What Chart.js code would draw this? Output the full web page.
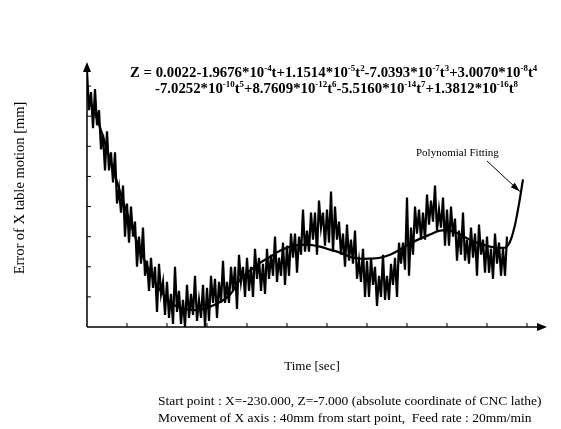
<!DOCTYPE html>
<html>
<head>
<meta charset="utf-8">
<script src="https://cdn.jsdelivr.net/npm/chart.js@4.4.1/dist/chart.umd.min.js"></script>
<style>
html, body { margin: 0; padding: 0; background: #fff; }
#wrap { width: 561px; height: 429px; position: relative; }
</style>
</head>
<body>
<div id="wrap"><canvas id="chart"></canvas></div>
<script>
// measured error of X table motion, one sample every 0.5 time units
const sampleStep = 0.5;
const errorValues = [
  85, 72, 78, 66, 79, 67, 72, 59, 64, 52, 65, 52, 58, 48, 58, 41, 46, 38, 47, 30,
  41, 28, 40, 30, 35, 20, 30, 21, 33, 17, 22, 12, 23, 13, 20, 5, 21, 11, 15, 4,
  15, 3, 11, 1, 20, 5, 12, 1, 9, 0, 14, 3, 11, 4, 17, 2, 9, 3, 14, 0,
  13, 2, 17, 8, 16, 3, 15, 8, 22, 8, 15, 8, 20, 12, 20, 6, 24, 15, 20, 10,
  23, 12, 20, 10, 26, 16, 23, 12, 21, 11, 26, 16, 24, 17, 30, 15, 23, 17, 28, 14,
  27, 17, 31, 23, 31, 18, 30, 24, 39, 25, 32, 25, 38, 29, 38, 24, 42, 33, 38, 27,
  39, 28, 45, 25, 40, 29, 35, 24, 31, 20, 34, 22, 29, 21, 32, 16, 22, 15, 26, 10,
  22, 10, 23, 14, 20, 7, 17, 10, 24, 9, 17, 9, 21, 14, 23, 10, 28, 21, 28, 19,
  43, 17, 33, 24, 40, 31, 39, 29, 38, 29, 44, 34, 42, 35, 47, 32, 39, 33, 43, 27,
  39, 27, 40, 30, 36, 22, 32, 24, 38, 22, 29, 21, 33, 23, 31, 17, 34, 24, 29, 18,
  30, 18, 26, 16, 31, 21, 28, 17, 26, 17, 30
];

// polynomial fitting curve
const fitTimes = [0, 3.25, 5.75, 8.25, 10.75, 13.25, 15.75, 18.25, 20.75, 23.25, 25.75, 28.25,
  30.75, 33.25, 35.75, 38.25, 40.75, 43.25, 45.75, 48.25, 50.75, 53.25, 55.75, 58.25,
  60.75, 63.25, 65.75, 68.25, 70.75, 73.25, 75.75, 78.25, 80.75, 83.25, 85.75, 88.25,
  90.75, 93.25, 95.75, 98.25, 100.75, 103.25, 105, 106.5, 107.75, 109];
const fitValues = [78, 66.3, 55.7, 45, 35, 25.7, 18.3, 12.3, 8.3, 6.3, 5.7, 5.7,
  6.7, 8.3, 10.7, 15.7, 18.7, 21.3, 23.3, 25.3, 26.7, 27.3, 27.3, 26.7,
  25.7, 24.7, 23.3, 22.7, 22.7, 23, 24, 25.7, 27.7, 29.3, 30.7, 32,
  32, 30.7, 29, 27.7, 26.7, 26.3, 26.7, 31.3, 39, 49];

const xTicks = [10, 20, 30, 40, 50, 60, 70, 80, 90, 100, 110];
const yTicks = [10, 20, 30, 40, 50, 60, 70, 80];

const equationLine1 = [['Z = 0.0022-1.9676*10', 0], ['-4', 1], ['t+1.1514*10', 0], ['-5', 1], ['t', 0], ['2', 1],
  ['-7.0393*10', 0], ['-7', 1], ['t', 0], ['3', 1], ['+3.0070*10', 0], ['-8', 1], ['t', 0], ['4', 1]];
const equationLine2 = [['-7.0252*10', 0], ['-10', 1], ['t', 0], ['5', 1], ['+8.7609*10', 0], ['-12', 1], ['t', 0], ['6', 1],
  ['-5.5160*10', 0], ['-14', 1], ['t', 0], ['7', 1], ['+1.3812*10', 0], ['-16', 1], ['t', 0], ['8', 1]];

const errorPoints = errorValues.map((v, i) => ({ x: i * sampleStep, y: v }));
const fitPoints = fitTimes.map((t, i) => ({ x: t, y: fitValues[i] }));

const serif = '"Liberation Serif", "Times New Roman", serif';

function drawRich(ctx, parts, x, y, size, weight) {
  parts.forEach(p => {
    if (p[1]) {
      ctx.font = weight + ' ' + (size * 0.6) + 'px ' + serif;
      ctx.fillText(p[0], x, y - size * 0.42);
    } else {
      ctx.font = weight + ' ' + size + 'px ' + serif;
      ctx.fillText(p[0], x, y);
    }
    x += ctx.measureText(p[0]).width;
  });
}

// axes with arrows, inward ticks and all the texts of the figure
const figurePlugin = {
  id: 'figure',
  afterDraw(chart) {
    const ctx = chart.ctx;
    const xs = chart.scales.x, ys = chart.scales.y;
    const x0 = xs.getPixelForValue(0), y0 = ys.getPixelForValue(0);
    const xEnd = xs.getPixelForValue(xs.max), yTop = ys.getPixelForValue(ys.max);
    ctx.save();
    ctx.strokeStyle = '#000';
    ctx.fillStyle = '#000';
    ctx.lineWidth = 1.5;
    ctx.beginPath();
    ctx.moveTo(x0, y0); ctx.lineTo(xEnd - 4, y0);
    ctx.moveTo(x0, y0); ctx.lineTo(x0, yTop + 4);
    ctx.stroke();
    ctx.beginPath();
    ctx.moveTo(xEnd, y0); ctx.lineTo(xEnd - 10, y0 - 4); ctx.lineTo(xEnd - 10, y0 + 4); ctx.closePath();
    ctx.moveTo(x0, yTop); ctx.lineTo(x0 - 4, yTop + 10); ctx.lineTo(x0 + 4, yTop + 10); ctx.closePath();
    ctx.fill();

    ctx.lineWidth = 1;
    ctx.beginPath();
    xTicks.forEach(t => { const px = xs.getPixelForValue(t); ctx.moveTo(px, y0); ctx.lineTo(px, y0 - 4); });
    yTicks.forEach(v => { const py = ys.getPixelForValue(v); ctx.moveTo(x0, py); ctx.lineTo(x0 + 4, py); });
    ctx.stroke();

    // equation
    ctx.textBaseline = 'alphabetic';
    ctx.textAlign = 'left';
    drawRich(ctx, equationLine1, 130, 77, 14.8, 'bold');
    drawRich(ctx, equationLine2, 155, 93, 14.8, 'bold');

    // annotation
    ctx.font = '11px ' + serif;
    ctx.fillText('Polynomial Fitting', 416, 156);
    const ax = xs.getPixelForValue(108.2), ay = ys.getPixelForValue(45);
    ctx.beginPath(); ctx.moveTo(487, 161); ctx.lineTo(ax, ay); ctx.stroke();
    const ang = Math.atan2(ay - 161, ax - 487);
    ctx.beginPath();
    ctx.moveTo(ax, ay);
    ctx.lineTo(ax - 10 * Math.cos(ang - 0.3), ay - 10 * Math.sin(ang - 0.3));
    ctx.lineTo(ax - 10 * Math.cos(ang + 0.3), ay - 10 * Math.sin(ang + 0.3));
    ctx.closePath(); ctx.fill();

    // axis titles
    ctx.font = '13px ' + serif;
    ctx.textAlign = 'center';
    ctx.fillText('Time [sec]', 312, 370);
    ctx.save();
    ctx.translate(24, 188);
    ctx.rotate(-Math.PI / 2);
    ctx.font = '14.5px ' + serif;
    ctx.fillText('Error of X table motion [mm]', 0, 0);
    ctx.restore();

    // caption
    ctx.textAlign = 'left';
    ctx.font = '13.5px ' + serif;
    ctx.fillText('Start point : X=-230.000, Z=-7.000 (absolute coordinate of CNC lathe)', 158, 405);
    ctx.fillText('Movement of X axis : 40mm from start point,  Feed rate : 20mm/min', 158, 422);
    ctx.restore();
  }
};

new Chart(document.getElementById('chart'), {
  type: 'line',
  data: {
    datasets: [
      {
        label: 'Measured error',
        data: errorPoints,
        borderColor: '#000',
        borderWidth: 2.2,
        pointRadius: 0,
        tension: 0
      },
      {
        label: 'Polynomial Fitting',
        data: fitPoints,
        borderColor: '#000',
        borderWidth: 2.2,
        pointRadius: 0,
        tension: 0.4
      }
    ]
  },
  options: {
    responsive: true,
    maintainAspectRatio: false,
    animation: false,
    layout: { padding: { left: 87, top: 62, right: 14, bottom: 102 } },
    plugins: { legend: { display: false }, tooltip: { enabled: false } },
    scales: {
      x: { type: 'linear', min: 0, max: 115, display: false },
      y: { type: 'linear', min: 0, max: 88, display: false }
    }
  },
  plugins: [figurePlugin]
});
</script>
</body>
</html>
